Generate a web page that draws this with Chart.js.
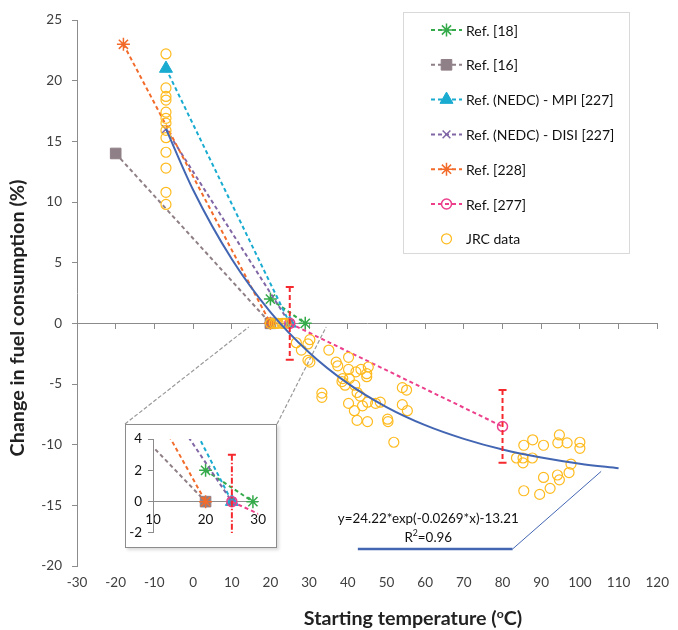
<!DOCTYPE html>
<html>
<head>
<meta charset="utf-8">
<script src="https://cdn.jsdelivr.net/npm/chart.js@4.4.1/dist/chart.umd.min.js"></script>
<style>
  html, body { margin: 0; padding: 0; background: #fff; }
  #wrap { position: relative; width: 678px; height: 630px; }
  #main { position: absolute; left: 0; top: 0; display: block; }
  #insetBox { position: absolute; left: 125px; top: 424px; width: 150px; height: 122px;
              border: 1px solid #8c8c8c; background: #fff; box-shadow: 2px 2px 3px rgba(0,0,0,0.15); }
  #inset { display: block; }
</style>
</head>
<body>
<div id="wrap">
  <canvas id="main" width="678" height="630"></canvas>
  <div id="insetBox"><canvas id="inset" width="150" height="122"></canvas></div>
</div>
<script>
//Values
var ref18X = [20, 29];
var ref18Y = [2, 0];
var ref16X = [-20, 20];
var ref16Y = [14, 0];
var mpiX = [-7, 25];
var mpiY = [21, 0];
var disiX = [-7, 25];
var disiY = [16, 0];
var ref228X = [-18, 20];
var ref228Y = [23, 0];
var ref277X = [25, 80];
var ref277Y = [0, -8.5];
var ref277Err = [3, 3];

var jrcX = [-7, -7, -7, -7, -7, -7, -7, -7, -7, -7, -7, -7, -7,
  20, 21, 21.5, 22, 23, 23.5, 24,
  26.7, 28, 29.7, 30.2, 29.7, 30.2, 35.1, 33.3, 33.3, 37, 37.4, 40.2, 40.2, 42.1, 43.4, 45.3,
  44.9, 44.9, 38.7, 38.5, 39.3, 40.4, 41.8, 42.4, 43.2, 40.2, 45.1, 47.2, 48.4, 43.8, 41.7,
  42.4, 45.1, 50.3, 50.4, 51.9, 54.1, 55.2, 54.1, 55.4,
  85.5, 87.8, 90.6, 94.7, 94.3, 96.7, 100, 100, 83.6, 85.3, 85.3, 87.7, 97.7, 97.2, 90.6,
  94.2, 94.7, 92.3, 85.5, 89.6];
var jrcY = [22.2, 19.4, 18.7, 18.4, 17.4, 16.9, 16.5, 15.9, 15.3, 14.1, 12.8, 10.8, 9.8,
  0, 0, 0, 0, 0, 0, 0,
  -1.6, -2.2, -1.7, -1.35, -3.05, -3.2, -2.2, -5.75, -6.1, -3.2, -3.5, -2.8, -3.8, -4.0, -3.8, -3.6,
  -4.15, -4.4, -4.55, -4.8, -5.1, -4.55, -5.1, -5.7, -6.0, -6.6, -6.5, -6.6, -6.5, -6.8, -7.2,
  -8.0, -8.1, -7.9, -8.1, -9.8, -5.3, -5.5, -6.7, -7.2,
  -10.05, -9.6, -10.05, -9.2, -9.85, -9.85, -9.8, -10.3, -11.1, -11.1, -11.5, -11.1, -11.6, -12.3, -12.7,
  -12.5, -12.9, -13.6, -13.8, -14.1];

//Trend line
var fitX = [-7, 0, 10, 20, 30, 40, 50, 60, 70, 80, 90, 100, 110];
var fitY = [16.03, 11.01, 5.30, 0.93, -2.40, -4.95, -6.90, -8.39, -9.52, -10.40, -11.06, -11.57, -11.95];
var fitEquation = 'y=24.22*exp(-0.0269*x)-13.21';
var fitR2 = '=0.96';

//Axis ranges and tick steps
var xRange = [-30, 120], xStep = 10;
var yRange = [-20, 25], yStep = 5;
var insetXRange = [10, 30], insetXStep = 10;
var insetYRange = [-2, 4], insetYStep = 2;

var axisColor = '#8c8c8c';
var tickColor = '#404040';
var fontFamily = 'Lato, "Liberation Sans", sans-serif';

function pts(xs, ys) {
  return xs.map(function(x, i) { return {x: x, y: ys[i]}; });
}

function refSeries(label, xs, ys, color, style, radius, filled, order) {
  return {
    label: label,
    data: pts(xs, ys),
    order: order,
    showLine: true,
    borderColor: color,
    borderWidth: 2,
    borderDash: [4, 3],
    pointStyle: style,
    pointRadius: radius,
    pointHoverRadius: radius,
    pointBorderColor: color,
    pointBackgroundColor: filled ? color : 'rgba(0,0,0,0)',
    pointBorderWidth: filled ? 1 : 1.5
  };
}

function makeDatasets() {
  var r277 = refSeries('Ref. [277]', ref277X, ref277Y, '#ec3f8c', 'circle', 5, false, 2);
  r277.errorBars = ref277Err;
  //lower order is painted on top, like the later series in the original
  return [
    {
      label: '',
      data: pts(fitX, fitY),
      order: 0,
      showLine: true,
      borderColor: '#4366b3',
      borderWidth: 2,
      pointRadius: 0,
      cubicInterpolationMode: 'monotone'
    },
    refSeries('Ref. [18]', ref18X, ref18Y, '#35aa4a', 'star', 6.5, false, 7),
    refSeries('Ref. [16]', ref16X, ref16Y, '#8f7f86', 'rect', 7.5, true, 6),
    refSeries('Ref. (NEDC) - MPI [227]', mpiX, mpiY, '#19abd0', 'triangle', 7.5, true, 5),
    refSeries('Ref. (NEDC) - DISI [227]', disiX, disiY, '#8166a6', 'crossRot', 5.5, false, 4),
    refSeries('Ref. [228]', ref228X, ref228Y, '#f26b2a', 'star', 6.5, false, 3),
    r277,
    {
      label: 'JRC data',
      data: pts(jrcX, jrcY),
      order: 1,
      showLine: false,
      pointStyle: 'circle',
      pointRadius: 5,
      pointHoverRadius: 5,
      pointBorderColor: '#ffbb1f',
      pointBackgroundColor: 'rgba(0,0,0,0)',
      pointBorderWidth: 1.2
    }
  ];
}

//Font size that makes a text as wide as in the figure
function fittedFont(ctx, text, width, weight) {
  ctx.font = weight + ' 20px ' + fontFamily;
  var size = 20 * width / ctx.measureText(text).width;
  return size;
}

//Red error bars of Ref. [277]
var errorBarPlugin = {
  id: 'errorBars',
  afterDatasetsDraw: function(chart, args, opts) {
    var ctx = chart.ctx, xs = chart.scales.x, ys = chart.scales.y, area = chart.chartArea;
    ctx.save();
    ctx.beginPath();
    ctx.rect(area.left, area.top, area.right - area.left, area.bottom - area.top);
    ctx.clip();
    ctx.strokeStyle = opts.color;
    ctx.lineWidth = 2;
    chart.data.datasets.forEach(function(ds) {
      if (!ds.errorBars) return;
      ds.data.forEach(function(p, i) {
        var px = xs.getPixelForValue(p.x);
        var top = ys.getPixelForValue(p.y + ds.errorBars[i]);
        var bot = ys.getPixelForValue(p.y - ds.errorBars[i]);
        ctx.setLineDash(opts.dash);
        ctx.beginPath();
        ctx.moveTo(px, top);
        ctx.lineTo(px, bot);
        ctx.stroke();
        ctx.setLineDash([]);
        ctx.beginPath();
        ctx.moveTo(px - opts.cap, top); ctx.lineTo(px + opts.cap, top);
        ctx.moveTo(px - opts.cap, bot); ctx.lineTo(px + opts.cap, bot);
        ctx.stroke();
      });
    });
    ctx.restore();
  }
};

//Boxed legend with line + marker samples
var boxLegendPlugin = {
  id: 'boxLegend',
  afterDraw: function(chart, args, opts) {
    var ctx = chart.ctx;
    ctx.save();
    ctx.fillStyle = '#fff';
    ctx.fillRect(opts.left, opts.top, opts.width, opts.height);
    ctx.strokeStyle = '#d9d9d9';
    ctx.lineWidth = 1;
    ctx.strokeRect(opts.left + 0.5, opts.top + 0.5, opts.width, opts.height);
    var row = 0;
    chart.data.datasets.forEach(function(ds) {
      if (!ds.label) return;
      var cy = opts.firstRow + row * opts.rowGap;
      row++;
      if (ds.showLine) {
        ctx.setLineDash(ds.borderDash || []);
        ctx.strokeStyle = ds.borderColor;
        ctx.lineWidth = ds.borderWidth;
        ctx.beginPath();
        ctx.moveTo(opts.left + 28, cy);
        ctx.lineTo(opts.left + 59, cy);
        ctx.stroke();
      }
      ctx.setLineDash([]);
      ctx.fillStyle = ds.pointBackgroundColor;
      ctx.strokeStyle = ds.pointBorderColor;
      ctx.lineWidth = ds.pointBorderWidth;
      Chart.helpers.drawPoint(ctx, {
        pointStyle: ds.pointStyle, radius: ds.pointRadius,
        borderWidth: ds.pointBorderWidth, rotation: 0
      }, opts.left + 43.5, cy);
      ctx.fillStyle = '#111';
      ctx.font = '14px ' + fontFamily;
      ctx.textBaseline = 'middle';
      ctx.textAlign = 'left';
      ctx.fillText(ds.label, opts.left + 63, cy + 1);
    });
    ctx.restore();
  }
};

//Axis titles, zoom connectors and trend line label
var decorPlugin = {
  id: 'decor',
  beforeDatasetsDraw: function(chart) {
    var ctx = chart.ctx, xs = chart.scales.x, ys = chart.scales.y;
    ctx.save();
    ctx.strokeStyle = '#9a9a9a';
    ctx.lineWidth = 1.2;
    ctx.setLineDash([4, 2]);
    ctx.beginPath();
    ctx.moveTo(125, 424);
    ctx.lineTo(xs.getPixelForValue(14.4), ys.getPixelForValue(-0.3));
    ctx.moveTo(277, 424);
    ctx.lineTo(xs.getPixelForValue(34.4), ys.getPixelForValue(-0.3));
    ctx.stroke();
    ctx.restore();
  },
  afterDraw: function(chart) {
    var ctx = chart.ctx, xs = chart.scales.x, ys = chart.scales.y;
    ctx.save();
    //leader from the curve to the equation
    ctx.strokeStyle = '#4366b3';
    ctx.lineWidth = 1;
    ctx.beginPath();
    ctx.moveTo(xs.getPixelForValue(105.5), ys.getPixelForValue(-12.2));
    ctx.lineTo(xs.getPixelForValue(82.6), ys.getPixelForValue(-18.6));
    ctx.stroke();
    ctx.lineWidth = 2.5;
    ctx.beginPath();
    ctx.moveTo(xs.getPixelForValue(82.6), ys.getPixelForValue(-18.6));
    ctx.lineTo(xs.getPixelForValue(42.6), ys.getPixelForValue(-18.6));
    ctx.stroke();

    ctx.fillStyle = '#111';
    ctx.textBaseline = 'middle';
    ctx.textAlign = 'center';
    var eqSize = fittedFont(ctx, fitEquation, 181, 'normal');
    ctx.font = eqSize + 'px ' + fontFamily;
    var cx = xs.getPixelForValue(60.8);
    ctx.fillText(fitEquation, cx, ys.getPixelForValue(-16.1));
    var ry = ys.getPixelForValue(-17.65);
    var wR = ctx.measureText('R').width, wV = ctx.measureText(fitR2).width;
    ctx.font = (eqSize * 0.65) + 'px ' + fontFamily;
    var w2 = ctx.measureText('2').width;
    var sx = cx - (wR + w2 + wV) / 2;
    ctx.textAlign = 'left';
    ctx.fillText('2', sx + wR, ry - 4);
    ctx.font = eqSize + 'px ' + fontFamily;
    ctx.fillText('R', sx, ry);
    ctx.fillText(fitR2, sx + wR + w2, ry);

    //x title with superscript o
    ctx.fillStyle = '#222';
    var a = 'Starting temperature (', b = 'C)';
    var tSize = fittedFont(ctx, a + 'oC)', 222, 'bold');
    ctx.font = 'bold ' + tSize + 'px ' + fontFamily;
    var wa = ctx.measureText(a).width, wb = ctx.measureText(b).width;
    ctx.font = 'bold ' + (tSize * 0.62) + 'px ' + fontFamily;
    var wo = ctx.measureText('o').width;
    var tx = 413 - (wa + wo + wb) / 2, ty = 619;
    ctx.fillText('o', tx + wa, ty - 5);
    ctx.font = 'bold ' + tSize + 'px ' + fontFamily;
    ctx.fillText(a, tx, ty);
    ctx.fillText(b, tx + wa + wo, ty);

    //y title
    var yTitle = 'Change in fuel consumption (%)';
    ctx.font = 'bold ' + fittedFont(ctx, yTitle, 277, 'bold') + 'px ' + fontFamily;
    ctx.translate(18, 318);
    ctx.rotate(-Math.PI / 2);
    ctx.textAlign = 'center';
    ctx.fillText(yTitle, 0, 0);
    ctx.restore();
  }
};

var tickFont = {family: fontFamily, size: 13.5};

//Main chart
var mainChart = new Chart(document.getElementById('main'), {
  type: 'scatter',
  data: {datasets: makeDatasets()},
  options: {
    responsive: false,
    animation: false,
    devicePixelRatio: 1,
    layout: {padding: {top: 20, right: 16, left: 0, bottom: 0}},
    plugins: {
      legend: {display: false},
      tooltip: {enabled: false},
      errorBars: {color: '#f5282d', dash: [5, 3], cap: 4},
      boxLegend: {left: 403, top: 12, width: 226, height: 241, firstRow: 30, rowGap: 34.8}
    },
    scales: {
      x: {
        type: 'linear', position: 'bottom', min: xRange[0], max: xRange[1],
        ticks: {stepSize: xStep, padding: 9, font: tickFont, color: tickColor, autoSkip: false, maxRotation: 0},
        grid: {display: false, drawTicks: false},
        border: {display: false},
        afterFit: function(scale) { scale.height = 64; }
      },
      x0: {
        type: 'linear', axis: 'x', position: {y: 0}, min: xRange[0], max: xRange[1],
        ticks: {display: false, stepSize: xStep},
        grid: {drawOnChartArea: false, drawTicks: true, tickLength: 5, color: axisColor},
        border: {color: axisColor}
      },
      y: {
        type: 'linear', min: yRange[0], max: yRange[1],
        ticks: {stepSize: yStep, padding: 10, font: tickFont, color: tickColor},
        grid: {drawOnChartArea: false, drawTicks: true, tickLength: 5, color: axisColor},
        border: {color: axisColor},
        afterFit: function(scale) { scale.width = 77; }
      }
    }
  },
  plugins: [decorPlugin, errorBarPlugin, boxLegendPlugin]
});

//Zoomed inset around 10-30 oC
var insetChart = new Chart(document.getElementById('inset'), {
  type: 'scatter',
  data: {datasets: makeDatasets().filter(function(ds) { return ds.label !== 'JRC data' && ds.label; })},
  options: {
    responsive: false,
    animation: false,
    devicePixelRatio: 1,
    layout: {padding: {top: 8, right: 13, left: 0, bottom: 11}},
    plugins: {
      legend: {display: false},
      tooltip: {enabled: false},
      errorBars: {color: '#f5282d', dash: [6, 2, 1.5, 2], cap: 4}
    },
    scales: {
      x: {
        type: 'linear', position: {y: 0}, min: insetXRange[0], max: insetXRange[1],
        ticks: {stepSize: insetXStep, padding: 10, font: tickFont, color: '#111', maxRotation: 0},
        grid: {drawOnChartArea: false, drawTicks: false, color: axisColor},
        border: {color: axisColor}
      },
      y: {
        type: 'linear', min: insetYRange[0], max: insetYRange[1],
        ticks: {stepSize: insetYStep, padding: 6, font: tickFont, color: '#111'},
        grid: {drawOnChartArea: false, drawTicks: true, tickLength: 5, color: axisColor},
        border: {color: axisColor},
        afterFit: function(scale) { scale.width = 27; }
      }
    }
  },
  plugins: [errorBarPlugin]
});
</script>
</body>
</html>
